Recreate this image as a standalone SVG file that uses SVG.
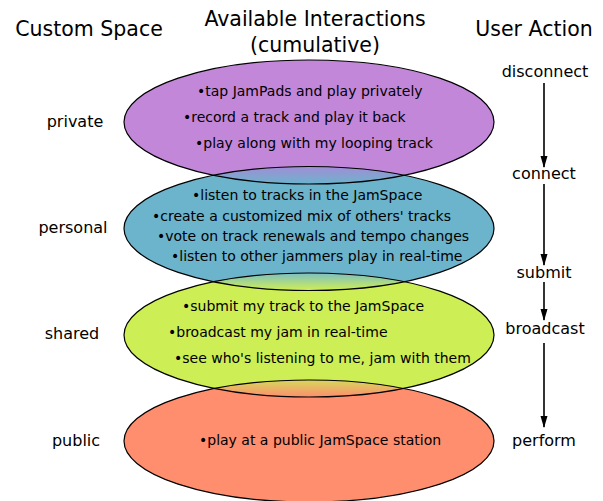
<svg xmlns="http://www.w3.org/2000/svg" width="603" height="501" viewBox="0 0 603 501">
<style>
text{font-family:"DejaVu Sans","Verdana",sans-serif;fill:#000}
.h{font-size:20.5px;text-anchor:middle}
.lab{font-size:16px;text-anchor:middle}
.b{font-size:14px}
.ol{fill:none;stroke:#000;stroke-width:1.2}
.ar{stroke:#000;stroke-width:1.6;fill:none;marker-end:url(#ah)}
</style>
<defs>
<marker id="ah" markerWidth="12" markerHeight="10" refX="11" refY="5" orient="auto" markerUnits="userSpaceOnUse">
<path d="M0,1.5 L12,5 L0,8.5 Z" fill="#000"/>
</marker>
<clipPath id="cP"><ellipse cx="309" cy="122" rx="185" ry="62"/></clipPath>
<clipPath id="cB"><ellipse cx="309" cy="228.5" rx="185" ry="62"/></clipPath>
<clipPath id="cG"><ellipse cx="309" cy="335" rx="185" ry="62"/></clipPath>
<linearGradient id="gPB" gradientUnits="userSpaceOnUse" x1="0" y1="167" x2="0" y2="184"><stop offset="0" stop-color="#a08ed6"/><stop offset="1" stop-color="#6cb3cc"/></linearGradient>
<linearGradient id="gBG" gradientUnits="userSpaceOnUse" x1="0" y1="273" x2="0" y2="290"><stop offset="0" stop-color="#7dbfc4"/><stop offset="1" stop-color="#cdee55"/></linearGradient>
<linearGradient id="gGO" gradientUnits="userSpaceOnUse" x1="0" y1="380" x2="0" y2="397"><stop offset="0" stop-color="#d6d85c"/><stop offset="1" stop-color="#fe8e6e"/></linearGradient>
</defs>
<g id="headers">
<text class="h" x="89" y="36">Custom Space</text>
<text class="h" x="315" y="26">Available Interactions</text>
<text class="h" x="315" y="52">(cumulative)</text>
<text class="h" x="534" y="36">User Action</text>
</g>
<g id="private">
<ellipse cx="309" cy="122" rx="185" ry="62" fill="#c387da"/>
</g>
<g id="personal">
<ellipse cx="309" cy="228.5" rx="185" ry="62" fill="#6cb3cc"/>
</g>
<g id="shared">
<ellipse cx="309" cy="335" rx="185" ry="62" fill="#cdee55"/>
</g>
<g id="public">
<ellipse cx="309" cy="441" rx="185" ry="61" fill="#fe8e6e"/>
</g>
<g id="overlaps">
<ellipse cx="309" cy="228.5" rx="185" ry="62" fill="url(#gPB)" clip-path="url(#cP)"/>
<ellipse cx="309" cy="335" rx="185" ry="62" fill="url(#gBG)" clip-path="url(#cB)"/>
<ellipse cx="309" cy="441" rx="185" ry="61" fill="url(#gGO)" clip-path="url(#cG)"/>
</g>
<g id="outlines">
<ellipse class="ol" cx="309" cy="122" rx="185" ry="62"/>
<ellipse class="ol" cx="309" cy="228.5" rx="185" ry="62"/>
<ellipse class="ol" cx="309" cy="335" rx="185" ry="62"/>
<ellipse class="ol" cx="309" cy="441" rx="185" ry="61"/>
</g>
<g id="interactions">
<text class="b" x="197" y="96">•tap JamPads and play privately</text>
<text class="b" x="183" y="122">•record a track and play it back</text>
<text class="b" x="195" y="148">•play along with my looping track</text>
<text class="b" x="192" y="200">•listen to tracks in the JamSpace</text>
<text class="b" x="152" y="221">•create a customized mix of others' tracks</text>
<text class="b" x="157" y="241">•vote on track renewals and tempo changes</text>
<text class="b" x="171" y="261">•listen to other jammers play in real-time</text>
<text class="b" x="182" y="311">•submit my track to the JamSpace</text>
<text class="b" x="168" y="337">•broadcast my jam in real-time</text>
<text class="b" x="174" y="363">•see who's listening to me, jam with them</text>
<text class="b" x="199" y="445">•play at a public JamSpace station</text>
</g>
<g id="spaces">
<text class="lab" x="75" y="127">private</text>
<text class="lab" x="73" y="233">personal</text>
<text class="lab" x="72" y="339">shared</text>
<text class="lab" x="76" y="446">public</text>
</g>
<g id="actions">
<text class="lab" x="545" y="77">disconnect</text>
<text class="lab" x="544" y="179">connect</text>
<text class="lab" x="544" y="278">submit</text>
<text class="lab" x="545" y="334">broadcast</text>
<text class="lab" x="544" y="446">perform</text>
</g>
<g id="connectors">
<line class="ar" x1="544" y1="83" x2="544" y2="167"/>
<line class="ar" x1="544" y1="184" x2="544" y2="265"/>
<line class="ar" x1="544" y1="282" x2="544" y2="320"/>
<line class="ar" x1="544" y1="343" x2="544" y2="427"/>
</g>
</svg>
